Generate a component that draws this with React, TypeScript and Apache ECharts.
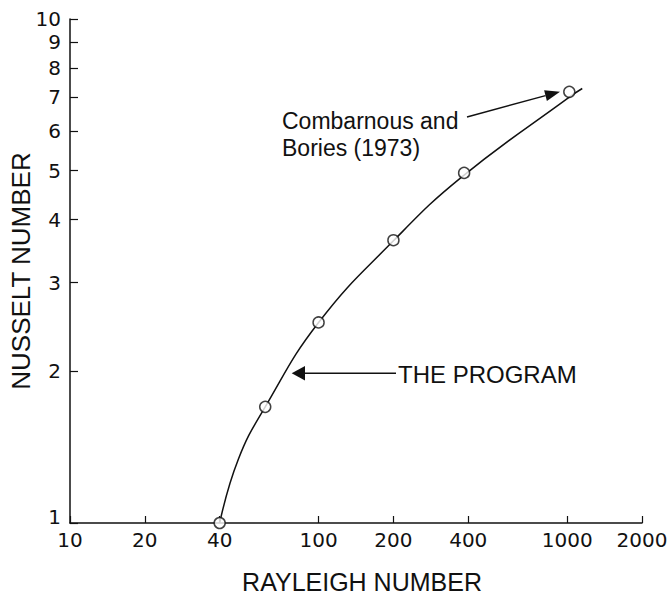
import React, { useEffect, useRef } from "react";
import * as echarts from "echarts";

// Axis tick values
const xTickValues = [10, 20, 40, 100, 200, 400, 1000, 2000];
const yTickValues = [1, 2, 3, 4, 5, 6, 7, 8, 9, 10];

// "THE PROGRAM" curve (Rayleigh number vs Nusselt number)
const curveRayleigh = [40, 47.6, 61, 100, 200, 375, 1020, 1150];
const curveNusselt = [1.0, 1.34, 1.7, 2.5, 3.63, 4.85, 7.0, 7.28];

// Combarnous and Bories (1973) data points
const dataRayleigh = [40, 61, 100, 200, 385, 1020];
const dataNusselt = [1.0, 1.7, 2.5, 3.64, 4.95, 7.17];

const INK = "#111";
const LABEL_FONT = "DejaVu Sans";
const TEXT_FONT = "Liberation Sans";

export default function App() {
  const ref = useRef<HTMLDivElement>(null);

  useEffect(() => {
    if (!ref.current) return;
    const chart = echarts.init(ref.current, undefined, { renderer: "svg" });

    const curve = curveRayleigh.map((x, i) => [x, curveNusselt[i]]);
    const points = dataRayleigh.map((x, i) => [x, dataNusselt[i]]);

    chart.setOption({
      animation: false,
      backgroundColor: "#fff",
      grid: {
        left: 70,
        right: 29,
        top: 19,
        bottom: 73,
        containLabel: false,
        outerBoundsMode: "none",
      },
      xAxis: {
        type: "log",
        logBase: 10,
        min: 10,
        max: 2000,
        name: "RAYLEIGH NUMBER",
        nameLocation: "middle",
        nameGap: 46,
        nameMoveOverlap: false,
        nameTextStyle: {
          color: INK,
          fontSize: 25,
          fontFamily: TEXT_FONT,
          padding: [0, 0, 0, 12],
        },
        axisLine: { show: true, lineStyle: { color: INK, width: 1.5 } },
        axisTick: {
          show: true,
          inside: true,
          length: 7,
          customValues: xTickValues,
          lineStyle: { color: INK, width: 1.2 },
        },
        axisLabel: {
          show: true,
          customValues: xTickValues,
          margin: 7,
          color: INK,
          fontSize: 20,
          fontFamily: LABEL_FONT,
          formatter: (v: number) => String(Math.round(v)),
        },
        splitLine: { show: false },
        minorTick: { show: false },
        minorSplitLine: { show: false },
      },
      yAxis: {
        type: "log",
        logBase: 10,
        min: 1,
        max: 10,
        name: "NUSSELT NUMBER",
        nameLocation: "middle",
        nameRotate: 90,
        nameGap: 36,
        nameMoveOverlap: false,
        nameTextStyle: { color: INK, fontSize: 26, fontFamily: TEXT_FONT },
        axisLine: { show: true, lineStyle: { color: INK, width: 1.5 } },
        axisTick: {
          show: true,
          inside: true,
          length: 8,
          customValues: yTickValues,
          lineStyle: { color: INK, width: 1.2 },
        },
        axisLabel: {
          show: true,
          customValues: yTickValues,
          margin: 9,
          color: INK,
          fontSize: 20,
          fontFamily: LABEL_FONT,
          formatter: (v: number) =>
            Math.round(v) === 1 ? "{low|1}" : String(Math.round(v)),
          rich: {
            low: {
              fontSize: 20,
              fontFamily: LABEL_FONT,
              color: INK,
              padding: [0, 0, 12, 0],
            },
          },
        },
        splitLine: { show: false },
        minorTick: { show: false },
        minorSplitLine: { show: false },
      },
      series: [
        {
          name: "THE PROGRAM",
          type: "line",
          data: curve,
          smooth: 0.45,
          symbol: "none",
          clip: false,
          lineStyle: { color: INK, width: 1.5 },
          z: 2,
        },
        {
          name: "Combarnous and Bories (1973)",
          type: "scatter",
          data: points,
          symbol: "circle",
          symbolSize: 11,
          clip: false,
          itemStyle: { color: "#fff", borderColor: INK, borderWidth: 1.5 },
          z: 3,
        },
      ],
      graphic: [
        {
          type: "text",
          x: 282,
          y: 134,
          style: {
            text: "Combarnous and\nBories (1973)",
            fill: INK,
            fontSize: 23,
            fontFamily: TEXT_FONT,
            lineHeight: 27,
            align: "left",
            verticalAlign: "middle",
          },
        },
        {
          type: "line",
          shape: { x1: 467, y1: 117, x2: 545.5, y2: 95.6 },
          style: { stroke: INK, lineWidth: 1.5 },
        },
        {
          type: "polygon",
          shape: {
            points: [
              [560, 91.7],
              [546.9, 100.9],
              [544.1, 90.3],
            ],
          },
          style: { fill: INK },
        },
        {
          type: "text",
          x: 398,
          y: 374,
          style: {
            text: "THE PROGRAM",
            fill: INK,
            fontSize: 24,
            fontFamily: TEXT_FONT,
            align: "left",
            verticalAlign: "middle",
          },
        },
        {
          type: "line",
          shape: { x1: 396, y1: 373.3, x2: 304, y2: 373.3 },
          style: { stroke: INK, lineWidth: 1.5 },
        },
        {
          type: "polygon",
          shape: {
            points: [
              [291.7, 373.3],
              [305, 366],
              [305, 380.6],
            ],
          },
          style: { fill: INK },
        },
      ],
    });

    return () => {
      chart.dispose();
    };
  }, []);

  return (
    <div
      ref={ref}
      style={{ position: "absolute", left: 0, top: 0, width: 671, height: 596 }}
    />
  );
}
